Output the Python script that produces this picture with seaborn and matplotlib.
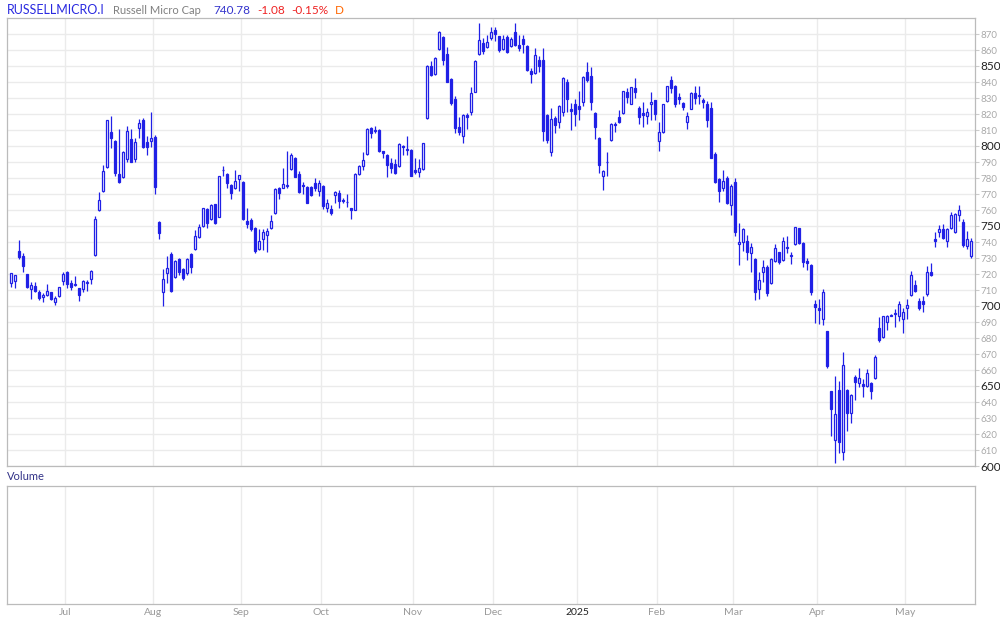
import numpy as np
import pandas as pd
import matplotlib
matplotlib.use('Agg')
import matplotlib.pyplot as plt
import seaborn as sns

sns.set_theme(style='white')
plt.rcParams['font.family'] = ['Lato', 'DejaVu Sans']

# daily OHLC, Jun 10 2024 .. May 23 2025
opens = [
    714.2, 715.8, 734.4, 731.3, 720.0, 710.8, 712.5, 708.7, 705.4, 707.0,
    708.7, 702.5, 706.3, 715.8, 721.0, 714.6, 713.75, 711.0, 710.4, 714.6,
    717.0, 732.0, 759.8, 772.0, 787.0, 808.75, 803.0, 782.5, 780.4, 792.0,
    804.4, 792.0, 811.4, 816.0, 802.5, 803.3, 805.4, 752.5, 708.5, 720.4,
    732.5, 718.3, 729.4, 723.0, 720.4, 732.5, 735.6, 742.9, 750.2, 760.6,
    754.6, 763.5, 755.8, 785.0, 782.5, 775.6, 774.0, 779.6, 777.5, 753.0,
    753.75, 748.75, 735.6, 741.7, 744.4, 749.0, 758.0, 773.75, 774.0, 775.2,
    785.4, 792.3, 782.5, 775.4, 774.4, 774.4, 777.0, 771.7, 775.0, 761.0,
    760.6, 769.2, 770.4, 766.25, 765.2, 761.0, 760.2, 782.3, 787.3, 794.8,
    811.25, 809.6, 809.8, 796.7, 794.2, 789.4, 788.5, 787.5, 800.0, 797.8,
    797.5, 784.8, 783.5, 785.4, 817.3, 849.8, 845.2, 860.4, 868.0, 857.3,
    841.9, 829.4, 811.7, 806.0, 819.6, 821.5, 833.9, 857.3, 864.4, 861.7,
    867.3, 872.5, 868.5, 860.6, 868.0, 862.5, 871.0, 863.0, 867.0, 862.3,
    846.9, 845.8, 853.5, 853.75, 819.4, 796.5, 817.3, 815.2, 821.0, 839.8,
    823.0, 826.0, 825.0, 827.3, 846.0, 843.5, 820.4, 805.0, 781.0, 789.8,
    803.5, 813.75, 818.0, 820.4, 833.75, 826.5, 836.25, 823.5, 820.6, 819.0,
    826.0, 828.5, 803.3, 808.5, 828.1, 841.0, 837.3, 830.4, 826.7, 814.8,
    823.3, 833.0, 831.5, 828.5, 826.25, 823.75, 795.0, 779.4, 773.5, 779.8,
    763.0, 777.3, 738.5, 740.2, 740.6, 733.3, 729.4, 710.6, 721.4, 724.2,
    714.2, 728.3, 733.5, 728.75, 737.0, 732.0, 738.5, 748.75, 739.6, 728.0,
    725.6, 701.0, 698.75, 691.7, 684.2, 646.7, 616.25, 647.5, 608.9, 647.5,
    633.0, 655.6, 652.0, 651.25, 650.2, 651.9, 654.8, 686.5, 680.4, 689.8,
    694.0, 695.4, 694.0, 691.7, 699.0, 706.7, 713.0, 703.0, 703.0, 707.7,
    721.0, 741.7, 746.0, 748.0, 740.8, 748.6, 746.0, 756.7, 752.5, 737.3,
    731.25,
]
highs = [
    720.5, 719.2, 741.3, 733.0, 720.0, 715.0, 715.0, 710.0, 708.0, 713.7,
    709.0, 706.0, 712.0, 721.0, 722.0, 716.0, 718.7, 711.5, 716.0, 716.5,
    722.5, 756.0, 771.0, 788.0, 816.5, 819.0, 803.5, 810.6, 797.0, 812.5,
    810.4, 805.0, 817.0, 817.3, 806.5, 821.0, 807.0, 753.0, 723.0, 731.4,
    734.0, 728.5, 730.0, 724.0, 730.0, 733.0, 747.5, 751.5, 761.5, 761.0,
    763.5, 764.0, 781.5, 787.5, 783.0, 776.0, 784.8, 782.0, 778.0, 761.0,
    755.0, 749.5, 748.0, 748.0, 748.5, 757.0, 774.0, 774.5, 786.0, 796.7,
    795.4, 793.0, 784.4, 777.5, 775.0, 775.0, 780.0, 779.0, 775.5, 767.0,
    763.0, 772.0, 772.5, 767.5, 770.0, 761.5, 783.0, 788.0, 796.5, 811.0,
    812.0, 812.5, 810.5, 797.0, 795.0, 792.3, 792.0, 802.0, 800.5, 806.25,
    798.0, 792.5, 792.0, 802.0, 850.5, 853.0, 855.5, 872.0, 868.5, 862.0,
    842.5, 831.0, 818.0, 820.0, 820.5, 837.0, 854.0, 876.9, 867.5, 869.4,
    874.2, 874.5, 869.0, 869.5, 869.5, 868.0, 876.9, 869.5, 869.4, 863.0,
    849.0, 861.0, 856.0, 861.5, 820.0, 823.5, 818.75, 825.5, 843.0, 841.7,
    826.7, 829.2, 834.4, 844.0, 852.3, 849.6, 821.0, 805.5, 785.0, 796.0,
    814.5, 815.2, 822.5, 834.5, 836.25, 837.0, 842.5, 825.0, 827.5, 823.8,
    833.5, 829.0, 815.0, 826.5, 837.5, 843.75, 838.0, 833.3, 827.5, 821.0,
    834.0, 837.7, 837.5, 830.0, 828.0, 827.3, 796.25, 780.0, 785.0, 781.0,
    776.0, 779.8, 751.7, 749.0, 744.4, 739.2, 730.0, 721.0, 728.75, 725.6,
    730.0, 738.5, 734.0, 743.3, 744.0, 734.0, 749.5, 749.0, 740.0, 730.0,
    726.0, 703.75, 704.4, 710.6, 684.5, 647.0, 656.25, 653.3, 671.25, 648.0,
    645.0, 657.0, 661.25, 654.4, 660.6, 652.5, 669.6, 693.3, 694.0, 694.5,
    694.8, 698.1, 703.1, 698.5, 704.4, 721.9, 716.25, 705.0, 706.0, 725.0,
    726.7, 746.0, 750.4, 751.0, 748.5, 758.5, 758.0, 763.0, 754.4, 746.7,
    742.3,
]
lows = [
    712.0, 711.0, 729.6, 721.0, 711.0, 704.6, 709.0, 703.5, 702.5, 706.5,
    704.0, 700.4, 705.5, 713.0, 711.0, 710.0, 712.5, 703.0, 709.0, 709.5,
    714.0, 731.0, 759.5, 771.0, 786.5, 799.0, 781.0, 776.7, 780.0, 790.0,
    790.0, 790.0, 805.0, 799.0, 794.4, 799.2, 769.8, 742.0, 700.0, 714.6,
    709.0, 717.5, 719.5, 716.0, 719.5, 720.8, 735.0, 742.5, 749.5, 749.0,
    754.0, 751.5, 755.5, 781.0, 774.0, 766.7, 773.0, 772.0, 754.0, 749.0,
    747.0, 733.0, 735.0, 735.0, 733.5, 748.0, 757.5, 767.0, 773.5, 773.5,
    785.0, 780.5, 770.5, 769.8, 764.5, 768.5, 772.0, 769.0, 760.4, 758.75,
    756.7, 764.6, 761.5, 764.5, 761.7, 754.2, 760.0, 782.0, 785.0, 794.5,
    805.0, 808.0, 796.5, 792.3, 780.4, 783.0, 782.5, 787.0, 794.6, 794.5,
    781.0, 782.5, 780.4, 785.0, 817.0, 843.5, 844.5, 860.0, 850.6, 840.0,
    825.6, 808.3, 806.9, 802.0, 810.6, 819.5, 833.5, 857.0, 857.7, 861.0,
    866.5, 865.6, 859.0, 860.0, 858.0, 862.0, 862.5, 859.4, 858.3, 847.0,
    839.6, 845.0, 846.0, 803.0, 802.0, 793.6, 808.0, 811.5, 819.0, 821.0,
    810.2, 812.5, 816.5, 825.0, 840.0, 822.5, 804.6, 783.0, 772.5, 781.5,
    803.0, 808.5, 814.5, 820.0, 826.7, 826.0, 830.2, 813.75, 812.0, 813.5,
    816.25, 816.0, 797.0, 808.0, 827.5, 833.3, 824.5, 826.25, 822.5, 810.8,
    823.0, 826.5, 826.0, 824.0, 812.0, 792.5, 777.0, 765.2, 772.0, 764.0,
    757.0, 743.75, 725.6, 734.4, 728.75, 721.4, 703.75, 704.4, 715.2, 706.25,
    714.0, 727.5, 726.0, 728.0, 733.3, 726.25, 738.0, 738.5, 724.2, 722.5,
    706.9, 689.6, 688.75, 688.3, 661.0, 618.75, 602.0, 607.9, 603.5, 622.0,
    626.7, 641.25, 649.6, 643.0, 649.5, 641.7, 654.5, 677.7, 680.0, 685.0,
    693.5, 686.7, 690.8, 683.0, 691.7, 706.0, 708.5, 697.3, 696.5, 706.5,
    718.5, 736.7, 742.9, 741.7, 736.7, 748.0, 745.5, 753.3, 736.7, 735.4,
    730.2,
]
closes = [
    720.4, 719.2, 730.8, 725.2, 712.0, 712.9, 709.6, 705.0, 706.7, 709.2,
    704.6, 705.0, 711.7, 720.0, 714.0, 711.7, 713.0, 706.7, 715.4, 715.0,
    722.0, 754.5, 766.25, 784.4, 816.0, 805.2, 783.3, 777.7, 796.4, 809.4,
    790.2, 802.3, 814.2, 799.6, 799.2, 805.0, 774.6, 745.8, 717.0, 723.5,
    709.6, 728.0, 721.0, 717.7, 729.4, 724.2, 744.0, 749.4, 761.0, 752.0,
    763.0, 752.0, 781.0, 785.3, 777.0, 770.8, 778.0, 781.7, 754.6, 751.25,
    748.3, 734.6, 740.4, 746.0, 747.0, 753.3, 773.0, 770.4, 776.0, 775.6,
    794.2, 780.8, 771.0, 775.0, 764.6, 769.4, 773.75, 777.0, 762.7, 764.2,
    758.3, 771.4, 765.8, 765.4, 765.0, 760.2, 782.3, 787.3, 791.25, 810.4,
    808.0, 809.8, 797.0, 795.8, 788.0, 786.5, 783.0, 801.25, 799.2, 798.2,
    781.5, 784.0, 786.0, 801.7, 849.8, 844.4, 854.8, 871.0, 854.0, 840.2,
    826.7, 811.0, 808.5, 819.4, 818.3, 833.0, 853.0, 866.25, 859.4, 865.0,
    871.0, 870.0, 859.8, 867.0, 858.8, 867.0, 863.0, 861.5, 864.0, 847.7,
    844.8, 856.7, 850.0, 809.4, 803.75, 816.7, 813.0, 825.0, 842.3, 829.2,
    822.0, 819.8, 823.0, 843.0, 841.0, 827.7, 812.0, 788.1, 784.4, 790.2,
    813.75, 813.0, 815.2, 834.2, 830.8, 836.7, 833.75, 818.3, 819.6, 821.25,
    827.3, 820.2, 808.5, 826.0, 837.3, 836.4, 826.0, 829.6, 824.2, 819.0,
    833.0, 830.2, 831.8, 827.3, 816.5, 792.7, 777.7, 772.1, 778.0, 764.2,
    775.0, 746.0, 740.0, 748.0, 734.0, 736.7, 709.0, 716.25, 724.2, 708.3,
    729.4, 736.0, 727.7, 740.4, 736.0, 731.25, 749.2, 739.2, 727.3, 727.0,
    709.0, 699.6, 697.3, 708.5, 662.7, 635.4, 632.3, 614.8, 663.0, 633.3,
    644.4, 652.7, 654.8, 650.2, 658.0, 646.7, 668.0, 679.0, 693.75, 694.0,
    694.4, 695.0, 701.25, 696.0, 700.4, 719.2, 709.2, 698.5, 701.0, 721.25,
    719.2, 740.8, 748.0, 742.7, 748.0, 756.7, 757.5, 759.8, 738.3, 741.86,
    740.78,
]

closed_days = ['2024-06-19', '2024-07-04', '2024-09-02', '2024-11-28',
               '2024-12-25', '2025-01-01', '2025-01-09', '2025-01-20',
               '2025-02-17']
dates = pd.bdate_range('2024-06-10', '2025-05-23').drop(pd.to_datetime(closed_days))

df = pd.DataFrame({'date': dates, 'open': opens, 'high': highs,
                   'low': lows, 'close': closes})
df['x'] = np.arange(len(df))
df['up'] = df['close'] >= df['open']
df['body_lo'] = df[['open', 'close']].min(axis=1)
df['body_h'] = (df['close'] - df['open']).abs().clip(lower=0.25)

blue = '#2020e6'
grid_c = '#ebebeb'
spine_c = '#bbbbbb'

fig = plt.figure(figsize=(10, 6.22), dpi=100)
ax = fig.add_axes([0.007, 1 - 466 / 622, 0.968, 448 / 622])
axv = fig.add_axes([0.007, 1 - 604 / 622, 0.968, 118 / 622])

# candles
ax.vlines(df['x'], df['low'], df['high'], color=blue, lw=0.9, zorder=2)
up = df[df['up']]
dn = df[~df['up']]
ax.bar(up['x'], up['body_h'], bottom=up['body_lo'], width=0.55,
       facecolor='white', edgecolor=blue, lw=0.9, zorder=3)
ax.bar(dn['x'], dn['body_h'], bottom=dn['body_lo'], width=0.55,
       facecolor=blue, edgecolor=blue, lw=0.9, zorder=3)

# month boundaries
firsts = df.groupby(df['date'].dt.to_period('M'))['x'].min().iloc[1:]
tick_pos = firsts.values - 0.5
tick_lab = ['2025' if p.month == 1 else p.strftime('%b') for p in firsts.index]

for a in (ax, axv):
    a.set_xlim(-1, len(df))
    a.set_xticks(tick_pos)
    a.grid(axis='x', color=grid_c, lw=1)
    for s in a.spines.values():
        s.set_color(spine_c)
        s.set_linewidth(0.9)

ax.set_ylim(600, 880)
ax.set_yticks(range(600, 880, 10))
ax.grid(axis='y', color=grid_c, lw=1)
ax.set_axisbelow(True)
ax.yaxis.tick_right()
ax.tick_params(axis='y', length=3, width=0.8, color='#cccccc', pad=1)
ax.tick_params(axis='x', length=0, labelbottom=False)
for lab, v in zip(ax.get_yticklabels(), range(600, 880, 10)):
    if v % 50 == 0:
        lab.set_fontsize(8.5)
        lab.set_color('#222222')
    else:
        lab.set_fontsize(7)
        lab.set_color('#aaaaaa')

axv.set_ylim(0, 1)
axv.set_yticks([])
axv.set_xticks(tick_pos, tick_lab)
axv.tick_params(axis='x', length=0, pad=3, labelsize=7.5, labelcolor='#999999')
for lab in axv.get_xticklabels():
    if lab.get_text() == '2025':
        lab.set_color('#222222')
axv.set_axisbelow(True)

# header
hy = 1 - 10 / 622
fig.text(7 / 1000, hy, 'RUSSELLMICRO.I', color='#2a2ae0', fontsize=9, va='center')
fig.text(113 / 1000, hy, 'Russell Micro Cap', color='#808080', fontsize=8, va='center')
fig.text(213 / 1000, hy, '740.78', color='#3333cc', fontsize=8.5, va='center')
fig.text(257 / 1000, hy, '-1.08', color='#ee2222', fontsize=8.5, va='center')
fig.text(291 / 1000, hy, '-0.15%', color='#ee2222', fontsize=8.5, va='center')
fig.text(335 / 1000, hy, 'D', color='#ff6600', fontsize=8.5, va='center')
fig.text(7 / 1000, 1 - 477 / 622, 'Volume', color='#333388', fontsize=8, va='center')

fig.savefig('out.png', dpi=100)
